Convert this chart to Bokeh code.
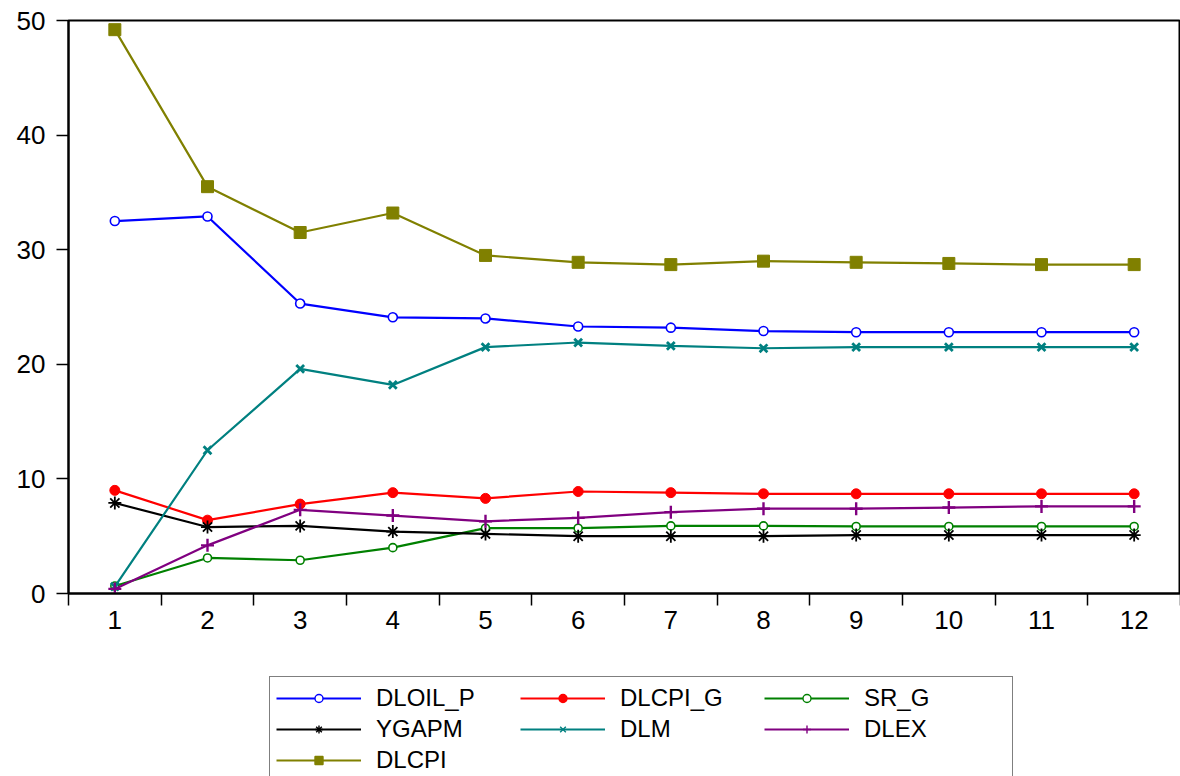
from bokeh.plotting import figure
from bokeh.models import Range1d, FixedTicker, Legend, LegendItem
from bokeh.layouts import column
from bokeh.embed import file_html
from bokeh.resources import INLINE

# ---- data ----
periods = [1, 2, 3, 4, 5, 6, 7, 8, 9, 10, 11, 12]
y_ticks = [0, 10, 20, 30, 40, 50]

dloil_p = [32.5, 32.9, 25.3, 24.1, 24.0, 23.3, 23.2, 22.9, 22.8, 22.8, 22.8, 22.8]
dlcpi_g = [9.0, 6.4, 7.8, 8.8, 8.3, 8.9, 8.8, 8.7, 8.7, 8.7, 8.7, 8.7]
sr_g = [0.65, 3.1, 2.9, 4.0, 5.7, 5.7, 5.9, 5.9, 5.85, 5.85, 5.85, 5.85]
ygapm = [7.9, 5.8, 5.9, 5.4, 5.2, 5.0, 5.0, 5.0, 5.1, 5.1, 5.1, 5.1]
dlm = [0.6, 12.5, 19.6, 18.2, 21.5, 21.9, 21.6, 21.4, 21.5, 21.5, 21.5, 21.5]
dlex = [0.4, 4.2, 7.3, 6.8, 6.3, 6.6, 7.1, 7.4, 7.4, 7.5, 7.6, 7.6]
dlcpi = [49.2, 35.5, 31.5, 33.2, 29.5, 28.9, 28.7, 29.0, 28.9, 28.8, 28.7, 28.7]

series_names = ["DLOIL_P", "DLCPI_G", "SR_G", "YGAPM", "DLM", "DLEX", "DLCPI"]
series_values = [dloil_p, dlcpi_g, sr_g, ygapm, dlm, dlex, dlcpi]

# ---- styles ----
styles = {
    "DLOIL_P": dict(color="#0000FF", marker="circle", size=9, fill="white", mlw=1.6),
    "DLCPI_G": dict(color="#FF0000", marker="circle", size=10, fill="#FF0000", mlw=1),
    "SR_G": dict(color="#008000", marker="circle", size=8, fill="white", mlw=1.6),
    "YGAPM": dict(color="#000000", marker="asterisk", size=13, fill=None, mlw=1.8),
    "DLM": dict(color="#008080", marker="x", size=11, fill=None, mlw=2.8),
    "DLEX": dict(color="#800080", marker="cross", size=13, fill=None, mlw=2.4),
    "DLCPI": dict(color="#808000", marker="square", size=12, fill="#808000", mlw=1),
}

FONT = "Liberation Sans"
FS = "26px"

p = figure(width=1180, height=650, output_backend="svg", toolbar_location=None,
           x_range=Range1d(0.5, 12.5), y_range=Range1d(0, 50),
           min_border_left=68, min_border_right=0, min_border_top=20,
           min_border_bottom=57, title=None)
p.background_fill_color = "white"
p.border_fill_color = "white"
p.outline_line_color = "black"
p.outline_line_width = 2
p.xgrid.grid_line_color = None
p.ygrid.grid_line_color = None

# x axis: labels at periods, tick marks between periods
xa = p.xaxis[0]
xa.ticker = FixedTicker(ticks=periods, minor_ticks=[v - 0.5 for v in periods] + [periods[-1] + 0.5])
xa.major_tick_out = 0
xa.major_tick_in = 0
xa.minor_tick_out = 12
xa.minor_tick_in = 0
xa.minor_tick_line_color = "black"
xa.minor_tick_line_width = 1.5
xa.axis_line_color = "black"
xa.axis_line_width = 2
xa.major_label_standoff = 5
xa.major_label_text_font = FONT
xa.major_label_text_font_size = FS
xa.major_label_text_color = "black"

ya = p.yaxis[0]
ya.ticker = FixedTicker(ticks=y_ticks)
ya.major_tick_out = 12
ya.major_tick_in = 0
ya.major_tick_line_color = "black"
ya.major_tick_line_width = 1.5
ya.minor_tick_line_color = None
ya.axis_line_color = "black"
ya.axis_line_width = 2
ya.major_label_standoff = 11
ya.major_label_text_font = FONT
ya.major_label_text_font_size = FS
ya.major_label_text_color = "black"

for name, vals in zip(series_names, series_values):
    st = styles[name]
    p.line(periods, vals, line_color=st["color"], line_width=2.2)
    p.scatter(periods, vals, marker=st["marker"], size=st["size"],
              line_color=st["color"], fill_color=st["fill"], line_width=st["mlw"])

# ---- legend strip under the chart (its renderers lie outside its visible range) ----
lg = figure(width=1180, height=126, output_backend="svg", toolbar_location=None,
            x_range=Range1d(-20, -19), y_range=Range1d(-20, -19),
            x_axis_location=None, y_axis_location=None, min_border=0, title=None)
lg.outline_line_color = None
lg.xgrid.grid_line_color = None
lg.ygrid.grid_line_color = None
lg.background_fill_color = "white"
lg.border_fill_color = "white"

items = []
for name, vals in zip(series_names, series_values):
    st = styles[name]
    lr = lg.line(periods, vals, line_color=st["color"], line_width=2.2)
    sr = lg.scatter(periods, vals, marker=st["marker"], size=st["size"],
                    line_color=st["color"], fill_color=st["fill"], line_width=1.4)
    items.append(LegendItem(label=name, renderers=[lr, sr]))

legend = Legend(items=items, location=(201, -5), orientation="horizontal", ncols=3,
                padding=6, spacing=2, glyph_width=85, glyph_height=20,
                label_height=29, label_width=142, label_standoff=15,
                label_text_font=FONT, label_text_font_size="24px",
                label_text_color="black",
                border_line_color="black", border_line_width=1.5,
                background_fill_color="white", background_fill_alpha=1.0,
                margin=0)
lg.add_layout(legend, "center")

layout = column(p, lg, spacing=0)
open("out.html", "w").write(file_html(layout, INLINE))
